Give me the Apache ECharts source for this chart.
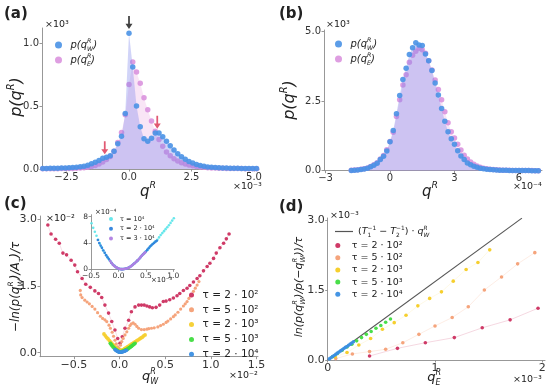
<!DOCTYPE html>
<html><head><meta charset="utf-8">
<script src="https://cdn.jsdelivr.net/npm/echarts@6/dist/echarts.min.js"></script>
<style>html,body{margin:0;padding:0;background:#fff}#c{width:550px;height:391px}</style>
</head><body><div id="c"></div>
<script>
// ---------- panel (a) ----------
const aX = [-3.45,-3.30,-3.15,-3.00,-2.85,-2.70,-2.55,-2.40,-2.25,-2.10,-1.95,-1.80,-1.65,-1.50,-1.35,-1.20,-1.05,-0.90,-0.75,-0.60,-0.45,-0.30,-0.15,0.00,0.15,0.30,0.45,0.60,0.75,0.90,1.05,1.20,1.35,1.50,1.65,1.80,1.95,2.10,2.25,2.40,2.55,2.70,2.85,3.00,3.15,3.30,3.45,3.60,3.75,3.90,4.05,4.20,4.35,4.50,4.65,4.80,4.95,5.10];
const aW = [0.004,0.004,0.005,0.005,0.006,0.007,0.008,0.009,0.011,0.013,0.017,0.022,0.030,0.042,0.054,0.068,0.085,0.093,0.105,0.140,0.200,0.260,0.440,1.078,0.810,0.500,0.335,0.240,0.220,0.245,0.285,0.285,0.255,0.220,0.185,0.150,0.122,0.097,0.077,0.060,0.047,0.036,0.028,0.021,0.016,0.013,0.011,0.009,0.008,0.007,0.006,0.005,0.005,0.004,0.004,0.003,0.003,0.003];
const aE = [0.002,0.002,0.002,0.002,0.002,0.003,0.003,0.003,0.004,0.005,0.007,0.010,0.014,0.020,0.028,0.040,0.055,0.075,0.100,0.140,0.210,0.290,0.430,0.670,0.850,0.770,0.680,0.565,0.470,0.380,0.300,0.235,0.180,0.135,0.105,0.082,0.064,0.050,0.039,0.031,0.025,0.020,0.016,0.013,0.010,0.008,0.007,0.006,0.005,0.004,0.004,0.003,0.003,0.003,0.002,0.002,0.002,0.002];
const arrowX = [0, -0.97, 1.13];
const arrowY = [1.163, 0.168, 0.372];
const arrowCol = ['#111111', '#d9304f', '#d9304f'];
const aXTicks = [-2.5, 0, 2.5, 5.0];
const aYTicks = [0, 0.5, 1.0];

// ---------- panel (b) ----------
const bX = [-1.80,-1.65,-1.50,-1.35,-1.20,-1.05,-0.90,-0.75,-0.60,-0.45,-0.30,-0.15,0.00,0.15,0.30,0.45,0.60,0.75,0.90,1.05,1.20,1.35,1.50,1.65,1.80,1.95,2.10,2.25,2.40,2.55,2.70,2.85,3.00,3.15,3.30,3.45,3.60,3.75,3.90,4.05,4.20,4.35,4.50,4.65,4.80,4.95,5.10,5.25,5.40,5.55,5.70,5.85,6.00,6.15,6.30,6.45,6.60,6.75,6.90];
const bW = [0.01,0.015,0.025,0.04,0.06,0.09,0.14,0.20,0.27,0.40,0.52,0.71,1.04,1.45,2.05,2.70,3.28,3.68,4.18,4.42,4.60,4.52,4.50,4.20,3.95,3.60,3.15,2.72,2.24,1.78,1.40,1.15,0.95,0.72,0.53,0.40,0.28,0.21,0.16,0.12,0.09,0.07,0.05,0.04,0.03,0.025,0.02,0.015,0.012,0.01,0.008,0.006,0.005,0.004,0.003,0.003,0.002,0.002,0.002];
const bE = [0.02,0.025,0.035,0.05,0.07,0.10,0.15,0.21,0.29,0.42,0.55,0.75,1.05,1.38,1.95,2.55,3.08,3.45,3.90,4.15,4.30,4.40,4.35,4.22,3.95,3.62,3.26,2.92,2.55,2.12,1.72,1.40,1.18,0.95,0.74,0.56,0.42,0.31,0.23,0.17,0.12,0.09,0.07,0.05,0.04,0.03,0.025,0.02,0.015,0.012,0.01,0.008,0.006,0.005,0.004,0.003,0.003,0.002,0.002];
const bXTicks = [-3, 0, 3, 6];
const bYTicks = [0, 2.5, 5.0];

// ---------- panel (c) ----------
const c200X = [-0.785,-0.75,-0.70,-0.66,-0.62,-0.58,-0.53,-0.49,-0.46,-0.41,-0.37,-0.32,-0.27,-0.23,-0.195,-0.16,-0.12,-0.085,-0.05,-0.02,0.005,0.03,0.06,0.10,0.13,0.17,0.21,0.24,0.27,0.30,0.33,0.36,0.40,0.44,0.48,0.51,0.55,0.59,0.63,0.66,0.70,0.74,0.77,0.81,0.85,0.88,0.92,0.96,0.99,1.03,1.06,1.10,1.14,1.17,1.20];
const c200Y = [2.87,2.67,2.55,2.46,2.24,2.20,2.08,1.97,1.82,1.67,1.54,1.47,1.39,1.33,1.24,1.07,0.89,0.70,0.51,0.32,0.21,0.36,0.55,0.73,0.92,1.03,1.07,1.07,1.07,1.05,1.03,1.01,1.02,1.07,1.15,1.16,1.19,1.23,1.28,1.33,1.40,1.45,1.51,1.59,1.67,1.73,1.84,1.94,2.01,2.12,2.24,2.36,2.46,2.56,2.67];
const c500X = [-0.43,-0.425,-0.41,-0.38,-0.355,-0.33,-0.30,-0.27,-0.24,-0.21,-0.185,-0.16,-0.14,-0.115,-0.10,-0.08,-0.065,-0.05,-0.035,-0.02,-0.005,0.01,0.025,0.04,0.06,0.08,0.10,0.115,0.13,0.15,0.17,0.19,0.21,0.24,0.27,0.30,0.32,0.35,0.38,0.42,0.45,0.48,0.51,0.53,0.56,0.59,0.61,0.64,0.67,0.70,0.72,0.74,0.76,0.78,0.81,0.83,0.85,0.87];
const c500Y = [1.40,1.30,1.24,1.18,1.14,1.10,1.04,0.98,0.90,0.82,0.77,0.74,0.70,0.62,0.55,0.46,0.37,0.28,0.20,0.13,0.10,0.17,0.25,0.32,0.40,0.47,0.55,0.61,0.65,0.67,0.64,0.59,0.55,0.52,0.52,0.53,0.54,0.55,0.56,0.58,0.61,0.64,0.68,0.71,0.76,0.81,0.85,0.91,0.98,1.05,1.10,1.15,1.22,1.28,1.38,1.45,1.52,1.60];
const c2000X = [-0.17,-0.155,-0.14,-0.125,-0.11,-0.095,-0.08,-0.065,-0.05,-0.035,-0.02,-0.005,0.01,0.025,0.04,0.055,0.07,0.085,0.10,0.115,0.13,0.145,0.16,0.175,0.19,0.205,0.22,0.235,0.25,0.265,0.28];
const c2000Y = [0.42,0.38,0.34,0.31,0.27,0.24,0.20,0.17,0.13,0.10,0.07,0.05,0.05,0.06,0.07,0.09,0.11,0.13,0.15,0.17,0.19,0.21,0.23,0.25,0.27,0.29,0.31,0.33,0.35,0.38,0.40];
const c5000X = [-0.10,-0.09,-0.08,-0.07,-0.06,-0.05,-0.04,-0.03,-0.02,-0.01,0.00,0.01,0.02,0.03,0.04,0.05,0.06,0.07,0.08,0.09,0.10,0.11,0.12,0.13,0.14,0.15,0.16,0.17];
const c5000Y = [0.21,0.18,0.155,0.13,0.11,0.09,0.07,0.055,0.04,0.03,0.02,0.02,0.025,0.03,0.035,0.045,0.055,0.065,0.075,0.085,0.10,0.115,0.13,0.145,0.16,0.18,0.195,0.21];
const c20000X = [-0.05,-0.042,-0.034,-0.026,-0.018,-0.01,-0.002,0.006,0.014,0.022,0.03,0.038,0.046,0.054,0.062,0.07,0.078];
const c20000Y = [0.07,0.055,0.045,0.035,0.025,0.018,0.012,0.01,0.01,0.012,0.016,0.02,0.026,0.032,0.04,0.048,0.056];
const cXTicks = [-0.5, 0, 0.5, 1.0, 1.5];
const cYTicks = [0, 1.5, 3.0];
// inset
const i1X = [-0.49,-0.46,-0.43,-0.40,-0.37,-0.34,-0.31,-0.28,-0.25,-0.22,-0.19,-0.16,-0.13,-0.10,-0.07,-0.04,-0.01,0.02,0.05,0.08,0.11,0.14,0.17,0.20,0.23,0.26,0.29,0.32,0.35,0.38,0.41,0.44,0.47,0.50,0.53,0.56,0.59,0.62,0.65,0.68,0.71,0.74,0.77,0.80,0.83,0.86,0.89,0.92,0.95,0.98,1.01];
const i1Y = [7.0,6.3,5.7,5.1,4.5,3.9,3.4,2.9,2.5,2.1,1.7,1.35,1.0,0.7,0.5,0.3,0.15,0.06,0.02,0.02,0.05,0.1,0.2,0.35,0.5,0.7,0.9,1.1,1.35,1.6,1.9,2.2,2.45,2.7,2.95,3.25,3.55,3.85,4.05,4.25,4.5,4.85,5.2,5.5,5.8,6.1,6.4,6.7,7.05,7.4,7.75];
const i2X = [-0.375,-0.35,-0.325,-0.30,-0.275,-0.25,-0.225,-0.20,-0.175,-0.15,-0.125,-0.10,-0.075,-0.05,-0.025,0.0,0.025,0.05,0.075,0.10,0.125,0.15,0.175,0.20,0.225,0.25,0.275,0.30,0.325,0.35,0.375,0.40,0.425,0.45,0.475,0.50,0.525,0.55,0.575,0.60,0.625,0.65,0.675,0.70];
const i2Y = [4.45,4.0,3.6,3.25,2.85,2.5,2.15,1.85,1.55,1.25,0.95,0.7,0.53,0.36,0.22,0.1,0.05,0.02,0.02,0.04,0.08,0.12,0.19,0.32,0.45,0.62,0.8,0.95,1.15,1.35,1.55,1.8,2.05,2.3,2.5,2.7,2.95,3.2,3.45,3.65,3.85,4.0,4.2,4.35];
const i3X = [-0.15,-0.13,-0.11,-0.09,-0.07,-0.05,-0.03,-0.01,0.01,0.03,0.05,0.07,0.09,0.11,0.13,0.15,0.17,0.19,0.21,0.23,0.25,0.27,0.29,0.31,0.33,0.35,0.37,0.39,0.41,0.43,0.45,0.47,0.49];
const i3Y = [1.25,1.0,0.8,0.6,0.47,0.35,0.25,0.15,0.08,0.04,0.02,0.01,0.03,0.06,0.09,0.13,0.18,0.26,0.36,0.48,0.62,0.77,0.9,1.03,1.18,1.35,1.52,1.72,1.92,2.1,2.28,2.44,2.6];
const iXTicks = [-0.5, 0, 0.5, 1.0];
const iYTicks = [0, 4, 8];

// ---------- panel (d) ----------
const dLineX = [0, 1.81];
const dLineY = [0, 3.04];
const d200X = [0.39,0.65,0.91,1.18,1.44,1.70,1.96];
const d200Y = [0.086,0.25,0.37,0.48,0.69,0.86,1.11];
const d500X = [0.075,0.23,0.39,0.54,0.70,0.85,1.00,1.16,1.31,1.46,1.62,1.77,1.93];
const d500Y = [0.03,0.13,0.18,0.23,0.37,0.55,0.73,0.91,1.14,1.50,1.78,2.06,2.30];
const d2000X = [0.07,0.18,0.29,0.40,0.51,0.62,0.73,0.84,0.95,1.06,1.17,1.29,1.40,1.51];
const d2000Y = [0.07,0.16,0.32,0.46,0.66,0.80,0.96,1.16,1.32,1.46,1.69,1.94,2.09,2.36];
const d5000X = [0.045,0.09,0.135,0.18,0.225,0.27,0.315,0.36,0.405,0.45,0.495,0.54,0.585];
const d5000Y = [0.07,0.14,0.21,0.28,0.34,0.41,0.48,0.55,0.61,0.68,0.74,0.81,0.88];
const d20000X = [0.015,0.03,0.045,0.06,0.075,0.09,0.105,0.12,0.135,0.15,0.165,0.18,0.195,0.21,0.225,0.24];
const d20000Y = [0.024,0.048,0.074,0.097,0.12,0.147,0.17,0.195,0.22,0.245,0.27,0.29,0.315,0.34,0.365,0.39];
const dXTicks = [0, 1, 2];
const dYTicks = [0, 1.5, 3.0];

// ---------- helpers ----------
const FF = 'DejaVu Sans';
const zip = (xs, ys) => xs.slice(0, Math.min(xs.length, ys.length)).map((x, i) => [x, ys[i]]);
const mfix = d => v => (v < -1e-9 ? '\u2212' : '') + Math.abs(v).toFixed(d);
const AXC = '#8c8c8c';
function mkAxis(gi, min, max, ticks, fmt, fs, isX) {
  return {
    type: 'value', gridIndex: gi, min: min, max: max, position: isX ? 'bottom' : 'left',
    axisLine: { show: true, onZero: false, lineStyle: { color: AXC, width: 0.9 } },
    axisTick: { show: true, length: 2.5, customValues: ticks, lineStyle: { color: AXC, width: 0.9 } },
    axisLabel: { show: true, customValues: ticks, formatter: fmt, fontSize: fs, fontFamily: FF, color: '#333', margin: 3, showMinLabel: true, showMaxLabel: true },
    splitLine: { show: false }, splitArea: { show: false }
  };
}
function mathRich(sz) {
  const b = { fontFamily: FF, color: '#222', align: 'left' };
  const lh = Math.round(sz * 1.4), sl = Math.round(sz * 0.75), ss = sz * 0.62;
  return {
    i: Object.assign({}, b, { fontSize: sz, fontStyle: 'italic', lineHeight: lh }),
    n: Object.assign({}, b, { fontSize: sz, lineHeight: lh }),
    up: Object.assign({}, b, { fontSize: ss, fontStyle: 'italic', lineHeight: sl, verticalAlign: 'top' }),
    upz: Object.assign({}, b, { fontSize: ss, fontStyle: 'italic', lineHeight: sl, verticalAlign: 'top', width: 0.01 }),
    dn: Object.assign({}, b, { fontSize: ss, fontStyle: 'italic', lineHeight: sl, verticalAlign: 'bottom' }),
    dnz: Object.assign({}, b, { fontSize: ss, lineHeight: sl, verticalAlign: 'bottom', width: 0.01 }),
    upn: Object.assign({}, b, { fontSize: ss, lineHeight: sl, verticalAlign: 'top' })
  };
}
function txt(x, y, text, o) {
  o = o || {};
  const al = o.align || 'left', va = o.va || 'middle';
  return {
    type: 'text', x: x, y: y, rotation: o.rot || 0, silent: true, z: 100,
    style: {
      text: text, rich: o.rich, fill: o.color || '#222', fontFamily: FF, fontSize: o.fs || 10,
      fontWeight: o.bold ? 'bold' : 'normal', fontStyle: o.italic ? 'italic' : 'normal',
      align: al, textAlign: al, verticalAlign: va, textVerticalAlign: va
    }
  };
}

const LAB = {
  aW: '{i|p(q}{upz|R}{dn|W}{i|)}', aE: '{i|p(q}{upz|R}{dn|E}{i|)}',
  bW: '{i|p(q}{upz|R}{dn|W}{i|)}', bE: '{i|p(q}{upz|R}{dn|E}{i|)}',
  c200: 'τ = 2 · 10²', c500: 'τ = 5 · 10²', c2000: 'τ = 2 · 10³', c5000: 'τ = 5 · 10³', c20000: 'τ = 2 · 10⁴',
  i1: 'τ = 10⁴', i2: 'τ = 2 · 10⁴', i3: 'τ = 3 · 10⁴',
  dL: '{n|(}{i|T}{dnz|1}{upn|−1}{n| − }{i|T}{dnz|2}{upn|−1}{n|) · }{i|q}{upz|R}{dn|W}',
  d200: 'τ = 2 · 10²', d500: 'τ = 5 · 10²', d2000: 'τ = 2 · 10³', d5000: 'τ = 5 · 10³', d20000: 'τ = 2 · 10⁴'
};

const COL = {
  W: '#4a92e6', E: '#d88ddc',
  c200: '#cf3a67', c500: '#f5a47c', c2000: '#f6cf2e', c5000: '#3fdc3f', c20000: '#3b8fe3',
  i1: '#5fe6ea', i2: '#2f82dc', i3: '#b07fe2', dL: '#555555'
};
const FILL_E = 'rgba(232,158,220,0.27)';
const FILL_W = 'rgba(120,130,235,0.34)';

function area(name, xi, xs, ys, color, z) {
  return { type: 'line', name: name, xAxisIndex: xi, yAxisIndex: xi, data: zip(xs, ys), symbol: 'none',
    lineStyle: { width: 0, opacity: 0 }, areaStyle: { color: color, opacity: 1 }, z: z, silent: true, animation: false };
}
function dots(name, xi, xs, ys, color, size, z, opacity) {
  return { type: 'scatter', name: name, xAxisIndex: xi, yAxisIndex: xi, data: zip(xs, ys), symbol: 'circle',
    symbolSize: size, itemStyle: { color: color, opacity: opacity == null ? 0.9 : opacity, borderWidth: 0 }, z: z, animation: false };
}
function dline(name, xi, xs, ys, color, size, z, lop) {
  return { type: 'line', name: name, xAxisIndex: xi, yAxisIndex: xi, data: zip(xs, ys), symbol: 'circle', showSymbol: true,
    symbolSize: size, itemStyle: { color: color, borderWidth: 0 }, lineStyle: { color: color, width: 0.8, opacity: lop },
    z: z, animation: false, clip: true };
}

const grid = [
  { left: 42, top: 28, width: 217, height: 141 },
  { left: 324, top: 30, width: 218, height: 140.7 },
  { left: 40, top: 216, width: 218, height: 140.7 },
  { left: 327.7, top: 218, width: 217.3, height: 142 },
  { left: 91, top: 214.7, width: 83.4, height: 54.6 }
].map(g => Object.assign({ outerBoundsMode: 'none', containLabel: false }, g));

const xAxis = [
  mkAxis(0, -3.48, 5.2, aXTicks, mfix(1), 10, true),
  mkAxis(1, -3.07, 7.07, bXTicks, mfix(0), 10, true),
  mkAxis(2, -0.871, 1.517, cXTicks, mfix(1), 11, true),
  mkAxis(3, 0, 2.025, dXTicks, mfix(0), 11, true),
  mkAxis(4, -0.5, 1.02, iXTicks, mfix(1), 7.5, true)
];
const yAxis = [
  mkAxis(0, 0, 1.119, aYTicks, mfix(1), 10, false),
  mkAxis(1, 0, 5.06, bYTicks, mfix(1), 10, false),
  mkAxis(2, -0.09, 3.074, cYTicks, mfix(1), 11, false),
  mkAxis(3, 0, 3.043, dYTicks, mfix(1), 11, false),
  mkAxis(4, 0, 8.3, iYTicks, mfix(0), 7.5, false)
];

const arrowPath = 'path://M3,0 L5,0 L5,9 L8,9 L4,15 L0,9 L3,9 Z';
const series = [
  // (a)
  area('aE_f', 0, aX, aE, FILL_E, 1),
  dots('aE', 0, aX, aE, COL.E, 5.5, 2, 0.85),
  area('aW_f', 0, aX, aW, FILL_W, 3),
  dots('aW', 0, aX, aW, COL.W, 5.5, 4, 0.9),
  { type: 'scatter', name: 'arrows', xAxisIndex: 0, yAxisIndex: 0, clip: false, symbol: arrowPath, symbolSize: [7, 13],
    data: arrowX.map((x, i) => ({ value: [x, arrowY[i]], itemStyle: { color: arrowCol[i] } })), z: 10, animation: false },
  // (b)
  area('bE_f', 1, bX, bE, FILL_E, 1),
  dots('bE', 1, bX, bE, COL.E, 5.5, 2, 0.85),
  area('bW_f', 1, bX, bW, FILL_W, 3),
  dots('bW', 1, bX, bW, COL.W, 5.5, 4, 0.9),
  // (c)
  dline('c200', 2, c200X, c200Y, COL.c200, 3.6, 2, 0.2),
  dline('c500', 2, c500X, c500Y, COL.c500, 3.2, 3, 0.25),
  dots('c2000', 2, c2000X, c2000Y, COL.c2000, 3.8, 4, 0.95),
  dots('c5000', 2, c5000X, c5000Y, COL.c5000, 3.8, 5, 0.95),
  dots('c20000', 2, c20000X, c20000Y, COL.c20000, 3.6, 6, 0.95),
  // inset
  dots('i1', 4, i1X, i1Y, COL.i1, 2.6, 7, 0.95),
  dots('i2', 4, i2X, i2Y, COL.i2, 2.6, 8, 0.95),
  dots('i3', 4, i3X, i3Y, COL.i3, 2.6, 9, 0.95),
  // (d)
  { type: 'line', name: 'dL', xAxisIndex: 3, yAxisIndex: 3, data: zip(dLineX, dLineY), symbol: 'none',
    itemStyle: { color: COL.dL }, lineStyle: { color: COL.dL, width: 1.1 }, z: 2, animation: false },
  dline('d200', 3, d200X, d200Y, COL.c200, 3.6, 3, 0.25),
  dline('d500', 3, d500X, d500Y, COL.c500, 3.6, 3, 0.25),
  dline('d2000', 3, d2000X, d2000Y, COL.c2000, 3.6, 3, 0.15),
  dots('d5000', 3, d5000X, d5000Y, COL.c5000, 3.6, 4, 0.95),
  dots('d20000', 3, d20000X, d20000Y, COL.c20000, 3.6, 5, 0.95)
];

const fmtL = n => LAB[n];
const legTxt = (fs, lh) => ({ fontFamily: FF, fontSize: fs, lineHeight: lh, color: '#222' });
const legend = [
  { left: 55, top: 38, orient: 'vertical', data: ['aW', 'aE'], icon: 'circle', itemWidth: 14, itemHeight: 7, itemGap: 1, padding: 0,
    formatter: fmtL, textStyle: { rich: mathRich(10) }, selectedMode: false },
  { left: 335, top: 37, orient: 'vertical', data: ['bW', 'bE'], icon: 'circle', itemWidth: 14, itemHeight: 7, itemGap: 1, padding: 0,
    formatter: fmtL, textStyle: { rich: mathRich(10) }, selectedMode: false },
  { left: 189, top: 288.5, orient: 'vertical', data: ['c200', 'c500', 'c2000', 'c5000', 'c20000'], icon: 'circle', itemWidth: 12, itemHeight: 5,
    itemGap: 1.8, padding: 0, formatter: fmtL, textStyle: legTxt(10.5, 13), selectedMode: false },
  { left: 109, top: 215, orient: 'vertical', data: ['i1', 'i2', 'i3'], icon: 'circle', itemWidth: 8, itemHeight: 4, itemGap: 1.7, padding: 0,
    formatter: fmtL, textStyle: legTxt(6.5, 8), selectedMode: false },
  { left: 335, top: 225, orient: 'vertical', data: ['dL'], icon: 'rect', itemWidth: 18, itemHeight: 1.2, padding: 0,
    formatter: fmtL, textStyle: { rich: mathRich(9.5) }, selectedMode: false },
  { left: 335.3, top: 239.5, orient: 'vertical', data: ['d200', 'd500', 'd2000', 'd5000', 'd20000'], icon: 'circle', itemWidth: 18, itemHeight: 5,
    itemGap: 0.2, padding: 0, formatter: fmtL, textStyle: legTxt(9.5, 12), selectedMode: false }
];

const RB = mathRich(16), RC = mathRich(12), RD = mathRich(11), RX = mathRich(15), RX2 = mathRich(13);
const graphic = [
  txt(4, 14, '(a)', { fs: 15, bold: true }),
  txt(279, 14, '(b)', { fs: 15, bold: true }),
  txt(4, 204, '(c)', { fs: 15, bold: true }),
  txt(279, 207, '(d)', { fs: 15, bold: true }),
  txt(45, 25, '×10³', { fs: 9.5 }),
  txt(233, 187, '×10⁻³', { fs: 9.5 }),
  txt(326, 25, '×10³', { fs: 9.5 }),
  txt(513, 187, '×10⁻⁴', { fs: 9.5 }),
  txt(46, 219, '×10⁻²', { fs: 9.5 }),
  txt(229, 376, '×10⁻²', { fs: 9.5 }),
  txt(330, 216, '×10⁻³', { fs: 9.5 }),
  txt(513, 380, '×10⁻³', { fs: 9.5 }),
  txt(95, 212, '×10⁻⁴', { fs: 7 }),
  txt(151, 280, '×10⁻³', { fs: 7 }),
  txt(17, 97, '{i|p(q}{up|R}{i|)}', { rich: RB, align: 'center', rot: Math.PI / 2 }),
  txt(290, 100, '{i|p(q}{up|R}{i|)}', { rich: RB, align: 'center', rot: Math.PI / 2 }),
  txt(148, 192, '{i|q}{up|R}', { rich: RX, align: 'center' }),
  txt(430, 192, '{i|q}{up|R}', { rich: RX, align: 'center' }),
  txt(16, 287, '{n|−}{i|ln(p(q}{upz|R}{dn|W}{i|)/A}{dn|τ}{i|)/τ}', { rich: RC, align: 'center', rot: Math.PI / 2 }),
  txt(299, 287, '{i|ln(p(q}{upz|R}{dn|W}{i|)/p(−q}{upz|R}{dn|W}{i|))/τ}', { rich: RD, align: 'center', rot: Math.PI / 2 }),
  txt(150, 377, '{i|q}{upz|R}{dn|W}', { rich: RX2, align: 'center' }),
  txt(434, 378, '{i|q}{upz|R}{dn|E}', { rich: RX2, align: 'center' })
];

const chart = echarts.init(document.getElementById('c'), null, { renderer: 'canvas' });
chart.setOption({
  backgroundColor: '#ffffff', animation: false,
  grid: grid, xAxis: xAxis, yAxis: yAxis, series: series, legend: legend, graphic: graphic,
  tooltip: { show: false }
});
</script>
</body></html>
